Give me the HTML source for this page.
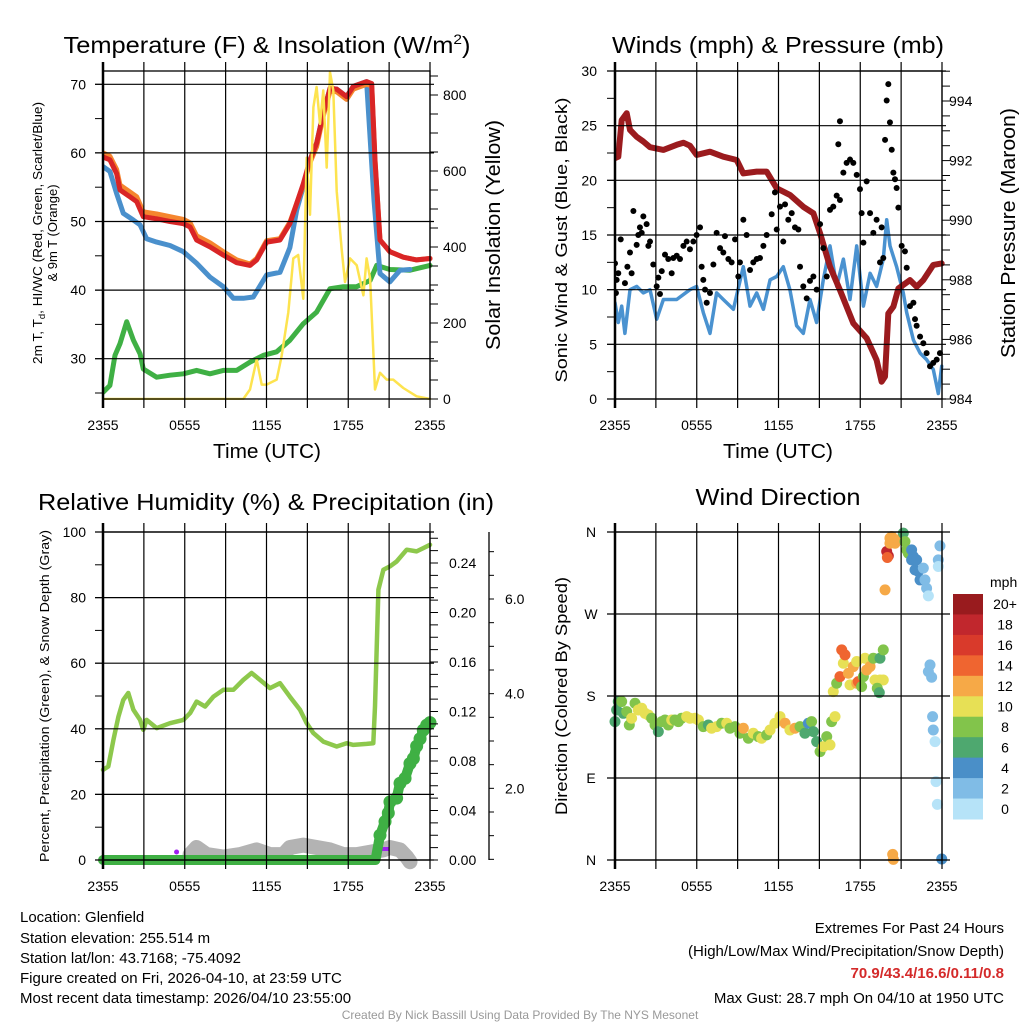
<!DOCTYPE html>
<html><head><meta charset="utf-8"><style>
html,body{margin:0;padding:0;background:#fff;}
svg{display:block;font-family:"Liberation Sans",Arial,sans-serif;}
</style></head><body>
<svg id="chart" width="1024" height="1024" viewBox="0 0 1024 1024" xmlns="http://www.w3.org/2000/svg">
<rect width="1024" height="1024" fill="#fff"/>
<g id="layer-marks"></g>
<g id="layer-axes"></g>
<g fill="#000">
<text x="267" y="53" font-size="23" text-anchor="middle" textLength="407" lengthAdjust="spacingAndGlyphs">Temperature (F) &amp; Insolation (W/m<tspan font-size="14" dy="-9">2</tspan><tspan dy="9">)</tspan></text>
<text x="778" y="53" font-size="23" text-anchor="middle" textLength="332" lengthAdjust="spacingAndGlyphs">Winds (mph) &amp; Pressure (mb)</text>
<text x="266" y="510" font-size="23" text-anchor="middle" textLength="456" lengthAdjust="spacingAndGlyphs">Relative Humidity (%) &amp; Precipitation (in)</text>
<text x="778" y="505" font-size="23" text-anchor="middle" textLength="165" lengthAdjust="spacingAndGlyphs">Wind Direction</text>
<text x="267" y="458" font-size="20" text-anchor="middle" textLength="108" lengthAdjust="spacingAndGlyphs">Time (UTC)</text>
<text x="778" y="458" font-size="20" text-anchor="middle" textLength="110" lengthAdjust="spacingAndGlyphs">Time (UTC)</text>
<text transform="translate(42,233) rotate(-90)" font-size="13" text-anchor="middle" textLength="262" lengthAdjust="spacingAndGlyphs">2m T, T<tspan font-size="9" dy="3">d</tspan><tspan dy="-3">, HI/WC (Red, Green, Scarlet/Blue)</tspan></text>
<text transform="translate(57,233) rotate(-90)" font-size="13" text-anchor="middle">&amp; 9m T (Orange)</text>
<text transform="translate(500,235) rotate(-90)" font-size="20" text-anchor="middle" textLength="230" lengthAdjust="spacingAndGlyphs">Solar Insolation (Yellow)</text>
<text transform="translate(567,240) rotate(-90)" font-size="17" text-anchor="middle" textLength="285" lengthAdjust="spacingAndGlyphs">Sonic Wind &amp; Gust (Blue, Black)</text>
<text transform="translate(1015,233) rotate(-90)" font-size="20" text-anchor="middle" textLength="250" lengthAdjust="spacingAndGlyphs">Station Pressure (Maroon)</text>
<text transform="translate(49,696) rotate(-90)" font-size="13" text-anchor="middle" textLength="332" lengthAdjust="spacingAndGlyphs">Percent, Precipitation (Green), &amp; Snow Depth (Gray)</text>
<text transform="translate(567,696) rotate(-90)" font-size="17" text-anchor="middle" textLength="238" lengthAdjust="spacingAndGlyphs">Direction (Colored By Speed)</text>
<text x="990" y="587" font-size="14">mph</text>
</g>
<g font-size="15" fill="#000">
<text x="20" y="922">Location: Glenfield</text>
<text x="20" y="943">Station elevation: 255.514 m</text>
<text x="20" y="963">Station lat/lon: 43.7168; -75.4092</text>
<text x="20" y="983">Figure created on Fri, 2026-04-10, at 23:59 UTC</text>
<text x="20" y="1003">Most recent data timestamp: 2026/04/10 23:55:00</text>
</g>
<g font-size="15" fill="#000" text-anchor="end">
<text x="1004" y="933">Extremes For Past 24 Hours</text>
<text x="1004" y="956">(High/Low/Max Wind/Precipitation/Snow Depth)</text>
<text x="1004" y="978" fill="#d42a2a" font-weight="bold">70.9/43.4/16.6/0.11/0.8</text>
<text x="1004" y="1003">Max Gust: 28.7 mph On 04/10 at 1950 UTC</text>
</g>
<text x="520" y="1019" font-size="12" fill="#999" text-anchor="middle">Created By Nick Bassill Using Data Provided By The NYS Mesonet</text>
</svg>
<script>
// ===== Data (hours since 2355 UTC) =====
const timeTickLabels = ["2355","0555","1155","1755","2355"];
const redTime = [0,0.51,1.0,1.25,1.98,2.47,2.96,3.94,4.92,5.9,6.39,6.87,7.85,8.83,9.81,10.79,11.28,12.01,12.99,13.72,14.21,14.7,15.19,15.68,16.17,16.66,17.15,17.88,18.37,19.35,19.72,19.96,20.33,21.06,22.04,23.02,24];
const tempRed = [59.4,59,57,54.6,53.6,52.9,50.7,50.4,50,49.7,49.2,47.3,46.3,45.1,44,43.6,44.4,47,47.3,49.7,52.6,55.5,59,61.4,65.8,69.4,69.3,68.2,69.7,70.4,70.1,59,47.3,45.6,44.8,44.4,44.6];
const temp9m = [60,59.5,57.6,55.3,54.3,53.6,51.4,51.1,50.7,50.3,49.8,47.9,46.9,45.6,44.4,43.8,44.6,47.2,47.5,49.9,52.6,55.3,58.6,60.9,65.4,69,68.9,67.8,69.3,70,69.8,58.8,47.3,45.6,44.8,44.4,44.6];
const blueTime = [0,0.51,1.0,1.49,2.23,2.72,3.2,3.94,4.92,5.9,6.87,7.85,8.83,9.57,10.3,11.03,12.01,12.99,13.72,14.21,14.7,15.19,15.68,16.17,16.66,17.15,17.88,18.37,19.35,19.89,20.33,21.06,21.8,22.53];
const tempWC = [58,57.3,54.1,51.2,50.2,49.5,47.5,47,46.5,45.6,43.9,41.9,40.5,38.8,38.8,39,42.2,42.6,46.2,51.6,55.1,59,61.4,65.8,69.4,69.3,68.2,69.7,70.4,53.1,42.4,41.2,42.9,43];
const dewTime = [0,0.51,0.88,1.25,1.74,2.23,2.72,2.96,3.94,4.92,5.9,6.87,7.85,8.83,9.81,10.79,11.77,12.75,13.72,14.7,15.68,16.66,17.64,18.62,19.6,20.09,21.06,22.53,24];
const tempDew = [25.1,26.1,30.5,32.2,35.4,32.7,30.7,28.5,27.3,27.6,27.8,28.3,27.8,28.3,28.3,29.5,30.5,31,32.7,35.1,36.8,40.2,40.5,40.5,41.4,43.6,43,42.9,43.6];
const solarTime = [0,10.3,10.79,11.28,11.65,12.01,12.75,13.11,13.6,13.97,14.33,14.7,14.95,15.19,15.44,15.68,15.93,16.17,16.42,16.66,16.9,17.15,17.51,17.76,18.13,18.62,19.11,19.35,19.6,19.96,20.33,20.82,21.3,22.04,23.02,24];
const solar = [0,0,25,104,38,38,51,113,228,370,379,264,635,485,768,821,724,812,609,860,812,547,396,308,370,352,273,370,317,25,69,51,51,29,7,0];
const tempTicks = [30,40,50,60,70];
const solarTicks = [0,200,400,600,800];

const presTime = [0,0.24,0.49,0.86,1.1,1.59,2.08,2.57,3.55,4.53,5.02,5.5,5.99,6.97,7.95,8.93,9.42,10.4,11.13,11.87,12.84,13.82,14.56,15.05,15.78,16.51,17.49,18.47,19.2,19.57,19.82,20.06,20.43,20.8,21.16,21.65,22.14,22.63,23.36,23.98];
const pressure = [992.08,992.13,993.36,993.59,993.03,992.8,992.64,992.45,992.36,992.53,992.6,992.5,992.19,992.3,992.13,992.02,991.57,991.63,991.63,991.07,990.85,990.45,990.23,989.56,988.44,987.66,986.54,986.04,985.31,984.58,984.75,986.87,987.1,987.71,987.83,987.99,987.77,987.99,988.5,988.55];
const windTime = [0,0.24,0.49,0.73,1.1,1.59,2.08,2.57,3.06,3.55,4.53,5.5,5.99,6.48,6.97,7.46,7.95,8.69,9.42,9.91,10.4,10.89,11.38,11.87,12.35,12.84,13.33,13.82,14.31,14.8,15.29,15.78,16.27,16.76,17.25,17.74,18.23,18.72,19.2,19.69,19.94,20.18,20.67,21.16,21.41,21.9,22.39,22.87,23.36,23.73,23.98];
const windSpeed = [8.8,7.0,8.5,6.0,10,10.3,9.7,10,7.3,9.1,9.1,10,10.3,7.9,6.0,9.7,9.1,8.2,12.1,8.5,9.7,8.2,10.9,11.2,12.1,10,6.7,6.0,9.1,7.0,10.9,14,10.3,12.8,9.1,14,8.5,11.5,10.3,12.8,16.4,14,12.1,9.7,7.9,5.4,4.2,3.6,2.7,0.5,3.0];
const gustTime = [0,0.12,0.24,0.07,0.42,0.73,0.91,1.1,1.22,1.35,1.59,1.71,1.83,1.96,2.08,2.32,2.45,2.57,2.81,3.06,3.18,3.30,3.43,3.67,3.91,4.16,4.28,4.53,4.77,5.02,5.26,5.50,5.75,5.99,6.24,6.36,6.48,6.61,6.73,6.97,7.22,7.46,7.71,7.95,8.07,8.32,8.56,8.81,9.05,9.17,9.42,9.66,9.91,10.15,10.40,10.64,10.89,11.13,11.50,11.74,11.87,12.11,12.35,12.48,12.72,12.97,13.21,13.46,13.58,13.82,14.07,14.31,14.56,14.80,15.05,15.29,15.54,15.78,16.02,16.27,16.51,16.39,16.51,16.76,17.00,17.25,17.49,17.74,17.98,18.10,18.23,18.47,18.72,18.96,19.20,19.45,19.69,19.57,19.82,19.94,20.06,20.18,20.31,20.43,20.55,20.67,20.80,21.04,21.28,21.41,21.65,21.90,22.02,22.14,22.39,22.63,22.87,23.12,23.36,23.61,23.85];
const gust = [12.4,10.9,11.5,9.7,14.6,10.6,12.1,13.4,11.5,17.2,14.1,15.0,15.7,15.2,16.7,16.0,14.0,14.4,12.3,10.3,11.1,9.6,11.7,13.2,12.8,11.5,12.9,13.1,12.8,14.0,14.4,13.7,14.4,15.0,15.7,12.1,10.9,10.0,8.8,9.7,12.3,15.2,13.8,13.4,14.9,12.8,12.5,14.6,11.2,12.5,16.4,15.0,11.8,12.5,12.8,12.9,14.0,15.0,16.9,18.9,15.5,17.6,14.4,17.8,16.4,17.0,15.7,15.5,12.1,10.3,9.2,10.8,11.2,10.0,16.0,13.8,11.2,17.3,17.6,18.6,18.2,23.3,25.4,20.7,21.6,21.9,21.6,20.5,19.2,17.0,14.3,19.9,17.0,15.2,16.4,12.5,12.9,15.7,23.7,27.3,28.8,25.3,22.8,20.7,20.1,19.3,17.5,14.0,13.5,12.0,8.5,8.8,7.3,6.7,5.7,5.1,4.2,3.0,3.3,3.6,4.2];
const windTicks = [0,5,10,15,20,25,30];
const presTicks = [984,986,988,990,992,994];

const rhTime = [0,0.39,0.76,1.13,1.49,1.86,2.23,2.72,2.96,3.2,3.94,4.92,5.9,6.39,6.87,7.49,8.1,8.83,9.57,10.3,10.91,11.52,12.26,12.99,13.72,14.46,14.95,15.44,16.17,17.15,17.88,18.37,19.35,19.84,19.96,20.21,20.58,21.06,21.55,22.29,23.02,23.51,24];
const rh = [27.5,28.5,36.6,43.7,48.8,50.9,45.8,42.7,39.7,42.7,40.2,41.7,42.7,44.8,48.3,46.8,49.8,51.9,51.9,54.9,57.0,54.9,52.4,53.9,49.8,45.8,41.7,38.7,36.1,34.6,35.6,35.1,35.4,35.6,46.8,82.4,88.5,89.5,91.0,94.6,94.1,95.1,96.1];
const precipTime = [0,4,8,12,16,20.0,20.33,20.7,20.94,21.06,21.55,21.8,22.17,22.53,22.78,23.02,23.27,23.51,23.76,24];
const precip = [0,0,0,0,0,0,0.020,0.031,0.038,0.047,0.050,0.062,0.066,0.078,0.082,0.092,0.098,0.105,0.109,0.111];
const snowTime = [6.39,6.87,7.61,8.83,10.06,11.28,12.26,13.24,13.72,14.7,15.68,16.66,17.64,18.62,19.6,20.58,21.06,21.8,22.29,22.53];
const snowDepth = [0.6,0.75,0.6,0.55,0.6,0.7,0.6,0.6,0.75,0.8,0.75,0.7,0.6,0.6,0.65,0.7,0.75,0.7,0.55,0.45];
const rhTicks = [0,20,40,60,80,100];
const precipTicks = ["0.00","0.04","0.08","0.12","0.16","0.20","0.24"];
const snowTicks = ["2.0","4.0","6.0"];

const dirTime = [0,0.12,0.24,0.49,0.61,0.86,1.05,1.22,1.47,1.71,1.96,2.2,2.45,2.69,2.94,3.18,3.43,3.67,3.91,4.16,4.4,4.65,4.89,5.26,5.5,5.87,6.12,6.48,6.85,7.09,7.46,7.83,8.2,8.44,8.81,9.17,9.42,9.79,10.15,10.52,10.76,11.13,11.38,11.74,12.11,12.48,12.84,13.21,13.58,13.94,14.19,14.43,14.56,14.8,15.05,15.29,15.54,15.78,15.9,16.15,
 16.02,16.27,16.51,16.76,16.64,16.88,17.13,17.25,17.49,17.74,17.74,17.86,18.1,18.23,18.35,18.47,18.72,18.96,19.08,19.45,19.69,19.25,19.45,19.4,19.69,
 19.82,19.94,20.06,19.99,20.18,20.31,20.18,20.55,20.8,21.16,21.28,21.41,21.53,21.77,21.9,21.77,22.14,22.02,22.26,22.63,22.39,22.75,22.87,23.0,
 23.85,23.73,23.73,23.12,23.0,23.24,23.31,23.36,23.49,23.56,23.66,23.98,20.38,20.43];
const direction = [151.9,164.7,173.9,173.9,161,162.9,148.2,155.6,172,164.7,166.5,161,159.2,155.6,148.2,140.9,151.9,153.7,148.2,153.7,153.7,151.9,155.6,157.4,155.6,155.6,153.7,146.4,148.2,144.6,146.4,150.1,150.1,144.6,146.4,139.1,144.6,133.6,139.1,135.4,133.6,137.3,142.7,150.1,157.4,150.1,142.7,144.6,146.4,139.1,150.1,151.9,140.9,129.9,119,124.4,135.4,126.3,151.9,157.4,
 184.8,194,201.3,215.9,230.6,225.1,205,192.2,212.3,217.8,194,195.8,190.3,201.3,221.4,208.6,212.3,221.4,197.6,197.6,197.6,188.5,221.4,183.7,230.6,
 296.5,338.6,333.8,332,353.2,355,347.7,347.7,351.4,358.7,349.5,340.4,336.7,340.4,333.1,329.4,329.4,318.4,316.6,320.3,307.4,307.4,298.3,289.9,
 344.8,329.4,322.1,214.1,206.8,200.6,157.4,142.7,129.9,86,61.1,1.1,6.2,0.7];
const dirSpeed = [6,6,6,8,6,8,8,10,8,10,10,10,10,8,8,6,8,8,8,10,8,8,8,10,10,10,10,8,6,10,10,8,10,8,8,8,12,8,10,8,10,8,10,10,10,12,10,12,8,6,4,8,6,6,8,10,8,10,8,10,
 10,8,14,10,14,14,12,10,12,10,12,14,8,8,10,12,12,8,10,10,10,8,6,6,8,
 12,18,18,14,12,12,12,12,12,6,8,8,8,4,4,4,4,4,4,2,4,2,2,0,
 2,2,0,2,2,2,2,2,0,0,0,4,12,12];
const dirTickLabels = ["N","E","S","W","N"];
const colorbarLabels = ["20+","18","16","14","12","10","8","6","4","2","0"];
const colorbarColors = ["#991b1e","#c1272d","#d93a2b","#ef6530","#f6a947","#e7e055","#82c44b","#4ea86f","#4a8fc8","#80bce6","#b6e3f8"];

// ===== Drawing =====
const NS = 'http://www.w3.org/2000/svg';
const marks = document.getElementById('layer-marks');
const axes = document.getElementById('layer-axes');
function mk(tag, attrs, parent){
  const e = document.createElementNS(NS, tag);
  for (const k in attrs) e.setAttribute(k, attrs[k]);
  parent.appendChild(e);
  return e;
}
function lin(d0,d1,r0,r1){ return v => r0 + (v-d0)/(d1-d0)*(r1-r0); }

const P1 = {x0:103,x1:430,y0:71,y1:399};
const P2 = {x0:615,x1:942,y0:71,y1:399};
const P3 = {x0:103,x1:430,y0:532,y1:860};
const P4 = {x0:615,x1:942,y0:532,y1:860};

function pathD(ts, vs, xs, ys){
  return ts.map((t,i)=>(i?'L':'M')+xs(t).toFixed(1)+','+ys(vs[i]).toFixed(1)).join('');
}
function frame(P, name, gridYs, extendRight){
  const g = mk('g',{}, axes);
  
  
  const xs = lin(0,24,P.x0,P.x1);
  for (let h=0; h<=24; h+=3){
    const x = xs(h);
    const l = mk('line',{x1:x,x2:x,y1:P.y0-9,y2:P.y1+9,stroke:'#000','stroke-width':1.2}, g);
    
    
  }
  gridYs.forEach(y=>{
    const l = mk('line',{x1:P.x0-8,x2:extendRight||P.x1+4,y1:y,y2:y,stroke:'#000','stroke-width':1.2}, g);
    
    
  });
  const r = mk('rect',{x:P.x0,y:P.y0,width:P.x1-P.x0,height:P.y1-P.y0,fill:'none',stroke:'#000','stroke-width':1.3}, g);
  
  
  mk('line',{x1:P.x0,x2:P.x0,y1:P.y0-9,y2:P.y1+9,stroke:'#000','stroke-width':2.5}, g);
  timeTickLabels.forEach((lab,i)=>{
    const t = mk('text',{x:xs(i*6),y:P.y1+31,'font-size':14,'text-anchor':'middle'}, g);
    t.textContent = lab;
    
    
  });
  return {g, xs};
}
function yLabels(g, vals, labels, ys, x, anchor, name, size){
  vals.forEach((v,i)=>{
    const t = mk('text',{x:x,y:ys(v)+5,'font-size':size||14,'text-anchor':anchor}, g);
    t.textContent = labels[i];
    
    
  });
}
function ticks(g, x, vals, ys, len){
  vals.forEach(v=>{ mk('line',{x1:x,x2:x+len,y1:ys(v),y2:ys(v),stroke:'#000','stroke-width':1}, g); });
}
function seq(a,b,s){ const r=[]; for(let v=a; v<=b+1e-9; v+=s) r.push(+v.toFixed(4)); return r; }

// ---- Panel 1 ----
(function(){
  const yT = lin(30,70,358.7,84.3);
  const yS = lin(0,800,399,95);
  const F = frame(P1,'temperature', tempTicks.map(yT));
  const xs = F.xs;
  ticks(F.g, P1.x0, seq(25,70,5), yT, -8);
  ticks(F.g, P1.x1, seq(0,850,50), yS, 8);
  yLabels(F.g, tempTicks, tempTicks.map(String), yT, 86, 'end', 'temperature-y-tick-label');
  yLabels(F.g, solarTicks, solarTicks.map(String), yS, 443, 'start', 'solar-y-tick-label');
  const clip = mk('clipPath',{id:'c1'}, marks);
  mk('rect',{x:P1.x0,y:P1.y0-1,width:P1.x1-P1.x0+4,height:P1.y1-P1.y0+2}, clip);
  const g = mk('g',{'clip-path':'url(#c1)',fill:'none','stroke-linejoin':'round','stroke-linecap':'round'}, marks);
  let p;
  p = mk('path',{d:pathD(dewTime,tempDew,xs,yT),stroke:'#3fb044','stroke-width':5}, g);
   
  p = mk('path',{d:pathD(blueTime,tempWC,xs,yT),stroke:'#4a90cc','stroke-width':5}, g);
   
  p = mk('path',{d:pathD(redTime,temp9m,xs,yT),stroke:'#f5862f','stroke-width':5}, g);
   
  p = mk('path',{d:pathD(redTime,tempRed,xs,yT),stroke:'#d92526','stroke-width':5}, g);
   
  p = mk('path',{d:pathD(solarTime,solar,xs,yS),stroke:'#fde34f','stroke-width':2.5}, g);
   
})();

// ---- Panel 2 ----
(function(){
  const yW = lin(0,30,399,71);
  const yP = lin(984,994,399,101);
  const F = frame(P2,'winds', windTicks.map(yW));
  const xs = F.xs;
  ticks(F.g, P2.x0, seq(0,30,2.5), yW, -8);
  ticks(F.g, P2.x1, seq(984,995,0.5), yP, 8);
  yLabels(F.g, windTicks, windTicks.map(String), yW, 597, 'end', 'wind-y-tick-label');
  yLabels(F.g, presTicks, presTicks.map(String), yP, 949, 'start', 'pressure-y-tick-label');
  const clip = mk('clipPath',{id:'c2'}, marks);
  mk('rect',{x:P2.x0,y:P2.y0-1,width:P2.x1-P2.x0+4,height:P2.y1-P2.y0+2}, clip);
  const g = mk('g',{'clip-path':'url(#c2)',fill:'none','stroke-linejoin':'round','stroke-linecap':'round'}, marks);
  let p = mk('path',{d:pathD(windTime,windSpeed,xs,yW),stroke:'#4a92d0','stroke-width':3.5}, g);
   
  p = mk('path',{d:pathD(presTime,pressure,xs,yP),stroke:'#9b1b1e','stroke-width':6}, g);
   
  gustTime.forEach((t,i)=>{
    const c = mk('circle',{cx:xs(t),cy:yW(gust[i]),r:3,fill:'#000'}, g);
    
    
  });
})();

// ---- Panel 3 ----
(function(){
  const yR = lin(0,100,860,532);
  const yPr = lin(0,0.24,860,563);
  const ySn = lin(0,6,883,599);
  const F = frame(P3,'humidity', rhTicks.map(yR));
  const xs = F.xs;
  ticks(F.g, P3.x0, seq(0,100,10), yR, -8);
  ticks(F.g, P3.x1, seq(0,0.26,0.01), yPr, 8);
  yLabels(F.g, rhTicks, rhTicks.map(String), yR, 86, 'end', 'humidity-y-tick-label');
  yLabels(F.g, precipTicks.map(Number), precipTicks, yPr, 449, 'start', 'precip-y-tick-label');
  const sx = 489;
  const ax = mk('line',{x1:sx,x2:sx,y1:532,y2:860,stroke:'#000','stroke-width':1.3}, F.g);
   
  ticks(F.g, sx, seq(0.5,7,0.5).filter(v=>ySn(v)>=533), ySn, 5);
  yLabels(F.g, snowTicks.map(Number), snowTicks, ySn, 505, 'start', 'snow-y-tick-label');
  const g = mk('g',{fill:'none','stroke-linejoin':'round','stroke-linecap':'round'}, marks);
  let p = mk('path',{d:pathD(snowTime,snowDepth,xs,ySn),stroke:'#b3b3b3','stroke-width':15}, g);
   
  mk('circle',{cx:xs(5.4),cy:852,r:2.5,fill:'#a020f0'}, g);
  mk('rect',{x:xs(20.3),y:847,width:9,height:4,fill:'#a020f0'}, g);
  p = mk('path',{d:pathD(precipTime,precip,xs,yPr),stroke:'#3fb044','stroke-width':10}, g);
   
  precipTime.forEach((t,i)=>{
    if (precip[i]>0){
      const c = mk('circle',{cx:xs(t),cy:yPr(precip[i]),r:6.5,fill:'#3fb044'}, g);
      
      
    }
  });
  p = mk('path',{d:pathD(rhTime,rh,xs,yR),stroke:'#8dc84c','stroke-width':4.5}, g);
   
})();

// ---- Panel 4 ----
(function(){
  const yD = lin(0,360,860,532);
  const F = frame(P4,'direction', [0,90,180,270,360].map(yD), 950);
  const xs = F.xs;
  dirTickLabels.forEach((lab,i)=>{
    const t = mk('text',{x:591,y:yD(i*90)+5,'font-size':14,'text-anchor':'middle'}, F.g);
    t.textContent = lab;
    
    
  });
  function col(s){ let k = Math.min(10, Math.floor(s/2)); return colorbarColors[10-k]; }
  const g = mk('g',{}, marks);
  dirTime.forEach((t,i)=>{
    const c = mk('circle',{cx:xs(t),cy:yD(direction[i]),r:5.5,fill:col(dirSpeed[i])}, g);
    
    
  });
  const cb = mk('g',{}, axes);
  
  
  const h = 225/11;
  colorbarColors.forEach((c,i)=>{
    const r = mk('rect',{x:953,y:594+i*h,width:30,height:h+0.5,fill:c}, cb);
    
    
    const t = mk('text',{x:1005,y:594+i*h+h/2+5,'font-size':14,'text-anchor':'middle'}, cb);
    t.textContent = colorbarLabels[i];
    
    
  });
})();
</script>
</body></html>
